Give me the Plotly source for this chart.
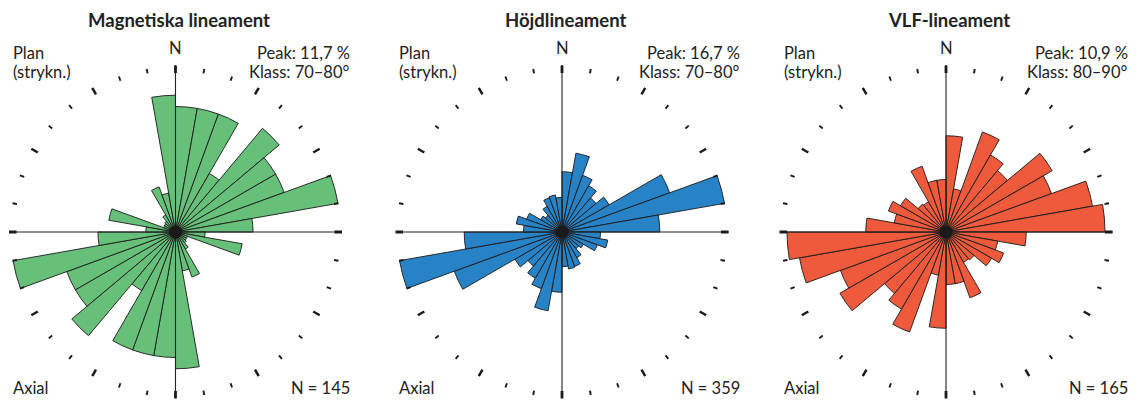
import plotly.graph_objects as go

# ---- data ----
bin_starts = list(range(0, 180, 10))  # axial bins 0-10 ... 170-180 (deg)
mag_pct = [8.9, 8.9, 8.9, 4.8, 9.6, 8.2, 8.2, 11.7, 5.5, 2.1, 4.8, 0.9, 0.9, 1.0, 1.4, 3.4, 2.8, 9.7]
hojd_pct = [6.1, 8.1, 6.1, 5.4, 4.5, 5.5, 11.6, 16.7, 9.9, 3.9, 4.7, 3.8, 2.5, 2.2, 3.0, 3.7, 3.8, 3.5]
vlf_pct = [6.6, 3.0, 7.3, 6.1, 5.5, 8.4, 7.7, 10.2, 10.9, 5.5, 3.6, 4.2, 3.6, 2.5, 2.4, 4.8, 3.6, 3.6]

titles = ["Magnetiska lineament", "Höjdlineament", "VLF-lineament"]
peaks = ["Peak: 11,7 %", "Peak: 16,7 %", "Peak: 10,9 %"]
classes = ["Klass: 70–80°", "Klass: 70–80°", "Klass: 80–90°"]
counts = ["N = 145", "N = 359", "N = 165"]

# page body has an 8px margin: lay the figure out in page coordinates minus 8
OFF = 8
W, H = 1139 - OFF, 403 - OFF
colors = ["#67C07A", "#2882C6", "#EF5A3D"]
centers_x = [175.5, 562.0, 946.0]
center_y = 232.0
R = 167.0                       # polar radius in px
peak_px = [165.0, 165.0, 159.0]  # pixel radius of the peak bar
series = [mag_pct, hojd_pct, vlf_pct]
text_left = [11, 397, 782]
text_right = [352, 742, 1130]

fig = go.Figure()
FONT = "Lato"


def X(p):
    return min(1.0, max(0.0, (p - OFF) / W))


def Y(p):
    return min(1.0, max(0.0, 1 - (p - OFF) / H))


for i, vals in enumerate(series):
    pid = "polar" if i == 0 else f"polar{i+1}"
    sub = pid
    rmax = max(vals) * R / peak_px[i]
    px = rmax / R  # data units per pixel

    theta = [b + 5 for b in bin_starts] + [b + 185 for b in bin_starts]
    rr = vals + vals
    fig.add_trace(go.Barpolar(
        r=rr, theta=theta, width=[10] * len(theta),
        marker=dict(color=colors[i], line=dict(color="#1a1a1a", width=0.9)),
        subplot=sub, showlegend=False, hoverinfo="skip"))

    # axis cross lines
    cross_r, cross_t = [], []
    for ang, ext in [(0, 174), (180, 166), (90, 167), (270, 166)]:
        cross_r += [0, ext * px, None]
        cross_t += [ang, ang, None]
    fig.add_trace(go.Scatterpolar(r=cross_r, theta=cross_t, mode="lines",
                                  line=dict(color="#222", width=1.1),
                                  subplot=sub, showlegend=False, hoverinfo="skip",
                                  cliponaxis=False))

    def seg(angles, r0, r1):
        rs, ts = [], []
        for a in angles:
            rs += [r0 * px, r1 * px, None]
            ts += [a, a, None]
        return rs, ts

    minor = [a for a in range(0, 360, 10) if a % 30 != 0]
    major = [a for a in range(0, 360, 30) if a % 90 != 0]
    caps = [0, 90, 180, 270]
    for angs, r0, r1, wd in [(minor, 161, 165.5, 1.9), (major, 159, 166.5, 2.5), (caps, 159, 166.5, 2.8)]:
        rs, ts = seg(angs, r0, r1)
        fig.add_trace(go.Scatterpolar(r=rs, theta=ts, mode="lines",
                                      line=dict(color="#1a1a1a", width=wd),
                                      subplot=sub, showlegend=False, hoverinfo="skip",
                                      cliponaxis=False))

    fig.add_trace(go.Scatterpolar(r=[0], theta=[0], mode="markers",
                                  marker=dict(color="#1a1a1a", size=13),
                                  subplot=sub, showlegend=False, hoverinfo="skip"))

    cx = centers_x[i]
    dom_x = [X(cx - R), X(cx + R)]
    dom_y = [Y(center_y + R), Y(center_y - R)]
    fig.update_layout(**{pid: dict(
        domain=dict(x=dom_x, y=dom_y),
        bgcolor="rgba(0,0,0,0)",
        radialaxis=dict(range=[0, rmax], visible=False, showgrid=False),
        angularaxis=dict(direction="clockwise", rotation=90, visible=False,
                         showgrid=False, showline=False, showticklabels=False, ticks=""),
    )})

    def ann(text, x, y, xanchor, size=16.5, bold=False):
        fig.add_annotation(text=f"<b>{text}</b>" if bold else text,
                           x=X(x), y=Y(y), xref="paper", yref="paper",
                           xanchor=xanchor, yanchor="middle", showarrow=False,
                           font=dict(family=FONT, size=size, color="#222"))

    ann(titles[i], cx + 3, 20, "center", size=18.5, bold=True)
    ann("N", cx, 48, "center")
    ann("Plan", text_left[i], 53, "left")
    ann("(strykn.)", text_left[i], 72, "left")
    ann(peaks[i], text_right[i], 53, "right")
    ann(classes[i], text_right[i], 72, "right")
    ann("Axial", text_left[i], 388, "left")
    ann(counts[i], text_right[i], 388, "right")

fig.update_layout(width=W, height=H, margin=dict(l=0, r=0, t=0, b=0),
                  paper_bgcolor="white", plot_bgcolor="white",
                  font=dict(family=FONT))
fig.write_html("out.html")
